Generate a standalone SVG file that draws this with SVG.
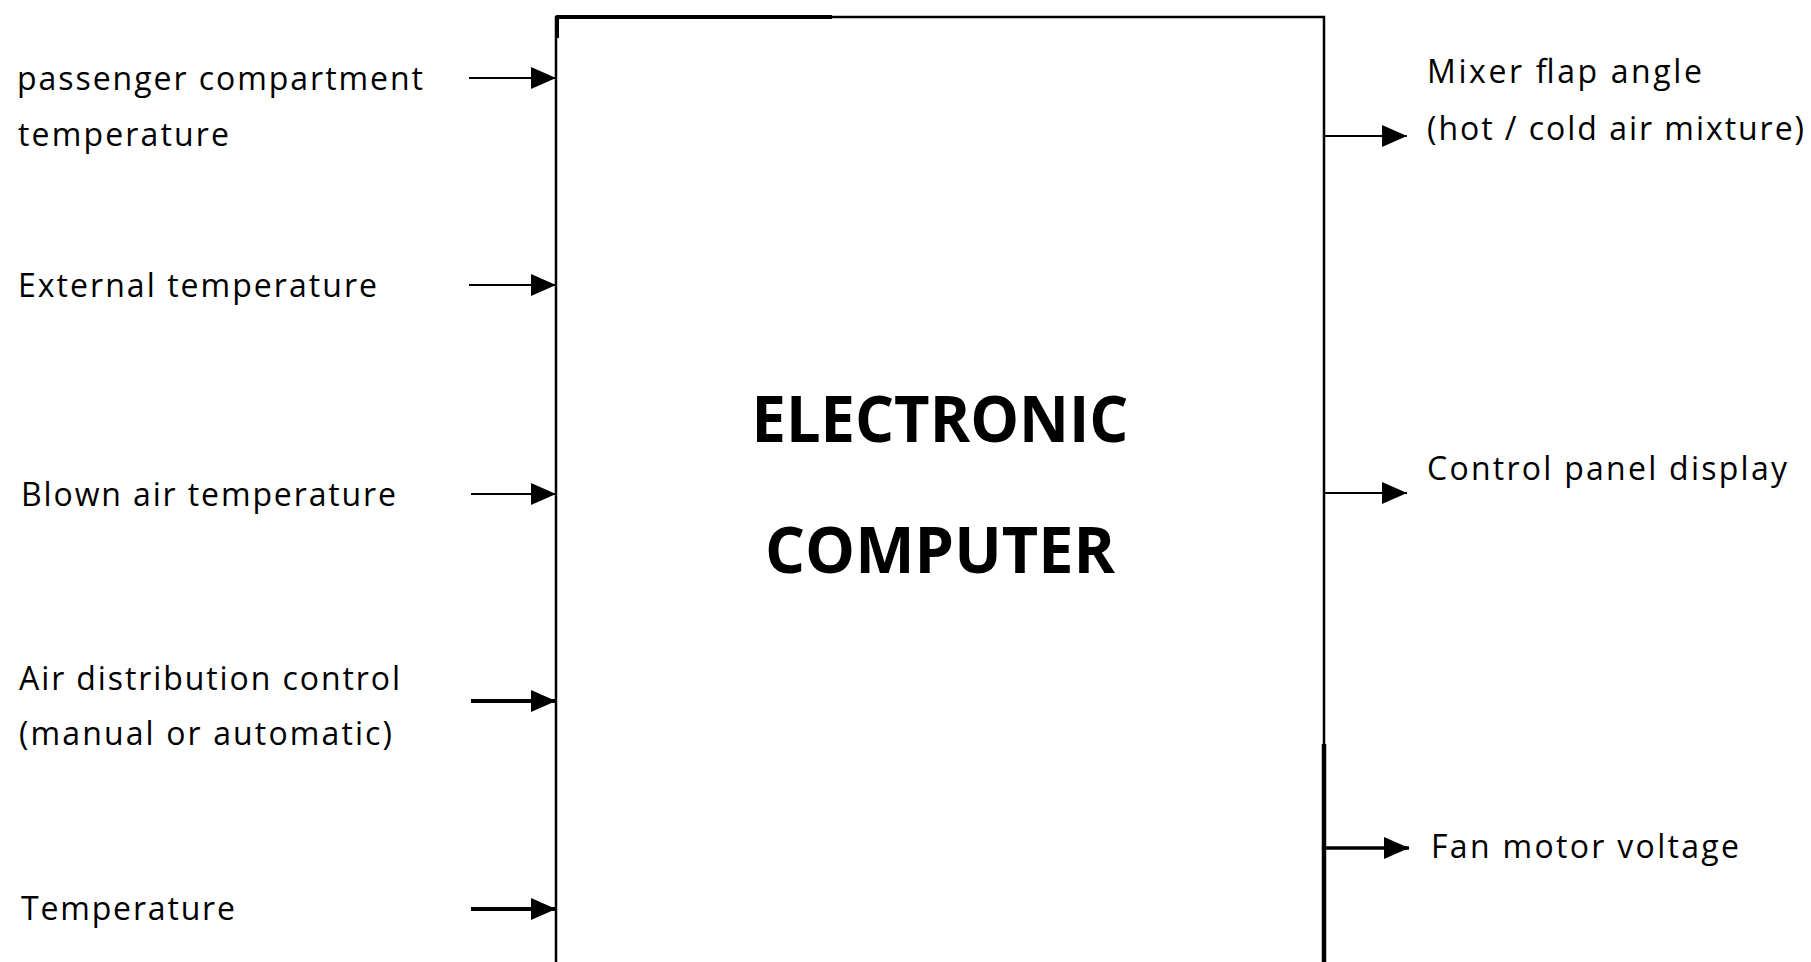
<svg xmlns="http://www.w3.org/2000/svg" width="1811" height="962" viewBox="0 0 1811 962">
<style>
.lbl{font-family:"Open Sans","Liberation Sans",sans-serif;font-size:32px;fill:#000}
.title{font-family:"Open Sans","Liberation Sans",sans-serif;font-size:64px;font-weight:bold;fill:#000;text-anchor:middle}
.c{stroke:#000;fill:none}
</style>
<defs>
<marker id="ah" viewBox="0 0 25 22" refX="25" refY="11" markerWidth="25" markerHeight="22" markerUnits="userSpaceOnUse" orient="auto">
<path d="M0,0 L25,11 L0,22 Z" fill="#000"/>
</marker>
</defs>
<rect width="1811" height="962" fill="#fff"/>
<g id="computer">
<path d="M556,975 V17 H1324 V975" fill="none" stroke="#000" stroke-width="2.5"/>
<path d="M556,17 H832" stroke="#000" stroke-width="4"/>
<path d="M557,17 V38" stroke="#000" stroke-width="4"/>
<path d="M1324,744 V975" stroke="#000" stroke-width="4.5"/>
<text class="title" x="940" y="442" textLength="377" lengthAdjust="spacingAndGlyphs">ELECTRONIC</text>
<text class="title" x="940" y="573" textLength="350" lengthAdjust="spacingAndGlyphs">COMPUTER</text>
</g>
<g id="in-passenger">
<text class="lbl" x="17" y="90" textLength="406" lengthAdjust="spacing">passenger compartment</text>
<text class="lbl" x="18" y="146" textLength="211" lengthAdjust="spacing">temperature</text>
</g>
<g id="in-external">
<text class="lbl" x="18" y="297" textLength="359" lengthAdjust="spacing">External temperature</text>
</g>
<g id="in-blown">
<text class="lbl" x="21" y="506" textLength="375" lengthAdjust="spacing">Blown air temperature</text>
</g>
<g id="in-airdist">
<text class="lbl" x="19" y="690" textLength="381" lengthAdjust="spacing">Air distribution control</text>
<text class="lbl" x="19" y="745" textLength="373" lengthAdjust="spacing">(manual or automatic)</text>
</g>
<g id="in-temp">
<text class="lbl" x="21" y="920" textLength="214" lengthAdjust="spacing">Temperature</text>
</g>
<g id="out-mixer">
<text class="lbl" x="1427" y="83" textLength="275" lengthAdjust="spacing">Mixer flap angle</text>
<text class="lbl" x="1427" y="140" textLength="377" lengthAdjust="spacing">(hot / cold air mixture)</text>
</g>
<g id="out-panel">
<text class="lbl" x="1427" y="480" textLength="360" lengthAdjust="spacing">Control panel display</text>
</g>
<g id="out-fan">
<text class="lbl" x="1431" y="858" textLength="308" lengthAdjust="spacing">Fan motor voltage</text>
</g>
<g id="connectors">
<line class="c" x1="469" y1="78" x2="556" y2="78" stroke-width="2" marker-end="url(#ah)"/>
<line class="c" x1="469" y1="285" x2="556" y2="285" stroke-width="2" marker-end="url(#ah)"/>
<line class="c" x1="471" y1="494" x2="556" y2="494" stroke-width="2" marker-end="url(#ah)"/>
<line class="c" x1="471" y1="701" x2="556" y2="701" stroke-width="4" marker-end="url(#ah)"/>
<line class="c" x1="471" y1="909" x2="556" y2="909" stroke-width="4" marker-end="url(#ah)"/>
<line class="c" x1="1324" y1="136" x2="1407" y2="136" stroke-width="2" marker-end="url(#ah)"/>
<line class="c" x1="1324" y1="493" x2="1407" y2="493" stroke-width="2" marker-end="url(#ah)"/>
<line class="c" x1="1324" y1="848" x2="1409" y2="848" stroke-width="3.5" marker-end="url(#ah)"/>
</g>
</svg>
